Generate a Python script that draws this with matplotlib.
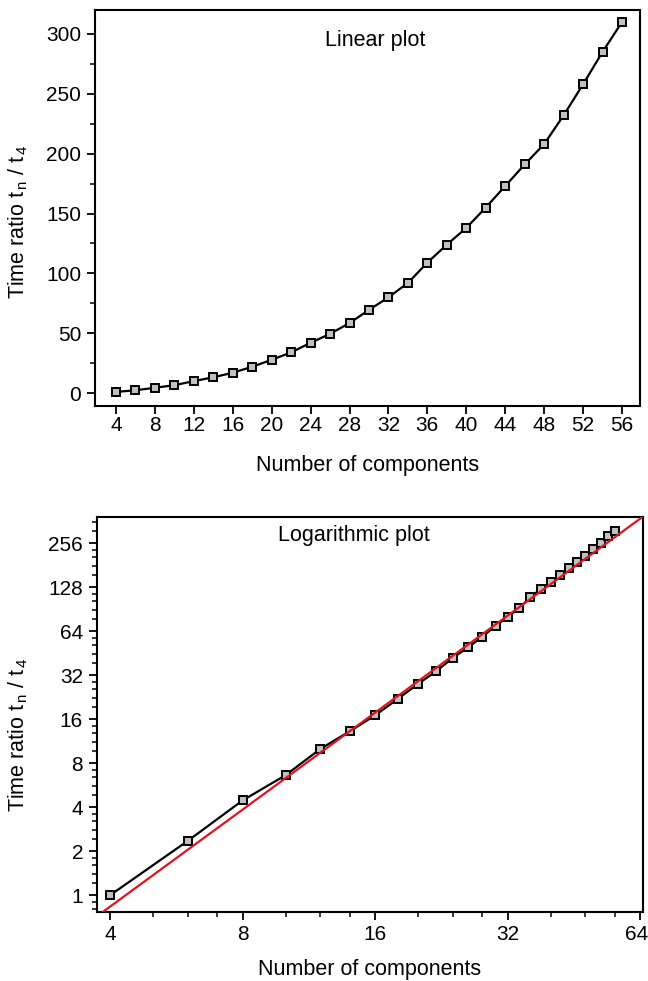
import numpy as np
import matplotlib
matplotlib.use("Agg")
import matplotlib.pyplot as plt
import matplotlib.transforms as mtransforms
from matplotlib.ticker import FixedLocator, LogLocator, NullFormatter, FuncFormatter, MultipleLocator

plt.rcParams['font.family'] = ['Liberation Sans', 'DejaVu Sans']
plt.rcParams['mathtext.fontset'] = 'custom'
plt.rcParams['mathtext.rm'] = 'Liberation Sans'
plt.rcParams['mathtext.it'] = 'Liberation Sans'

# data
n_components = [4, 6, 8, 10, 12, 14, 16, 18, 20, 22, 24, 26, 28, 30,
                32, 34, 36, 38, 40, 42, 44, 46, 48, 50, 52, 54, 56]
time_ratio = [1.0, 2.35, 4.45, 6.6, 10.0, 13.2, 17.0, 22.0, 27.8, 34.0, 42.0,
              49.5, 58.5, 69.5, 80.0, 92.0, 109.0, 124.0, 138.0, 155.0, 173.0,
              191.0, 208.0, 232.0, 258.0, 285.0, 310.0]
# power-law fit (log-log regression line): ratio = fit_coef * (n/4)^fit_exp
fit_coef = 0.836
fit_exp = 2.204

lin_xticks = [4, 8, 12, 16, 20, 24, 28, 32, 36, 40, 44, 48, 52, 56]
lin_yticks = [0, 50, 100, 150, 200, 250, 300]
log_xticks = [4, 8, 16, 32, 64]
log_yticks = [1, 2, 4, 8, 16, 32, 64, 128, 256]

fig = plt.figure(figsize=(6.48, 9.81), dpi=100)
ylabel = 'Time ratio t$_{\\,\\mathregular{n}}$ / t$_{\\,\\mathregular{4}}$'
fs_tick = 15
fs_lab = 15.5
fs_title = 15.5

def style(ax, xpad):
    for s in ax.spines.values():
        s.set_linewidth(1.5)
    ax.tick_params(which='major', direction='out', length=6, width=1.3,
                   labelsize=fs_tick, pad=4)
    ax.tick_params(axis='x', which='major', pad=xpad)
    ax.tick_params(which='minor', direction='out', length=3.5, width=1.1)

# top: linear
ax1 = fig.add_axes([0.1466, 0.5861, 0.8411, 0.4037])
ax1.plot(n_components, time_ratio, color='black', lw=1.6, marker='s', ms=5.5,
         mfc='#c0c0c0', mec='black', mew=1.4)
ax1.set_xlim(1.85, 57.85)
ax1.set_ylim(-10.8, 320)
ax1.xaxis.set_major_locator(FixedLocator(lin_xticks))
ax1.yaxis.set_major_locator(FixedLocator(lin_yticks))
ax1.yaxis.set_minor_locator(MultipleLocator(25))
style(ax1, 1.5)
ax1.set_xlabel('Number of components', fontsize=fs_lab, labelpad=14)
ax1.set_ylabel(ylabel, fontsize=fs_lab)
ax1.yaxis.set_label_coords(-0.119, 0.465)
ax1.text(0.514, 0.924, 'Linear plot', transform=ax1.transAxes, ha='center',
         va='center', fontsize=fs_title)

# bottom: logarithmic
ax2 = fig.add_axes([0.1497, 0.0703, 0.8426, 0.4027])
ax2.set_xscale('log', base=2)
ax2.set_yscale('log', base=2)
xf = np.array([3.7, 66.0])
ax2.plot(xf, fit_coef * (xf / 4.0) ** fit_exp, color='#e0141e', lw=1.6, zorder=3)
ax2.plot(n_components, time_ratio, color='black', lw=1.6, marker='s', ms=5.5,
         mfc='#c0c0c0', mec='black', mew=1.4, zorder=2)
ax2.set_xlim(3.73, 64.9)
ax2.set_ylim(0.765, 386)
ax2.xaxis.set_major_locator(FixedLocator(log_xticks))
ax2.yaxis.set_major_locator(FixedLocator(log_yticks))
ax2.xaxis.set_minor_locator(LogLocator(base=2, subs=[1.25, 1.5, 1.75]))
ax2.yaxis.set_minor_locator(LogLocator(base=2, subs=[1.2, 1.4, 1.6, 1.8]))
fmt = FuncFormatter(lambda v, p: '%d' % round(v))
ax2.xaxis.set_major_formatter(fmt)
ax2.yaxis.set_major_formatter(fmt)
ax2.xaxis.set_minor_formatter(NullFormatter())
ax2.yaxis.set_minor_formatter(NullFormatter())
style(ax2, 3)
ax2.set_xlabel('Number of components', fontsize=fs_lab, labelpad=11)
ax2.set_ylabel(ylabel, fontsize=fs_lab)
ax2.yaxis.set_label_coords(-0.123, 0.45)
ax2.text(0.47, 0.952, 'Logarithmic plot', transform=ax2.transAxes, ha='center',
         va='center', fontsize=fs_title)

fig.canvas.draw()
last = ax2.get_xticklabels()[-1]
last.set_transform(last.get_transform() +
                   mtransforms.ScaledTranslation(-4 / 100, 0, fig.dpi_scale_trans))

fig.savefig('out.png', dpi=100)
